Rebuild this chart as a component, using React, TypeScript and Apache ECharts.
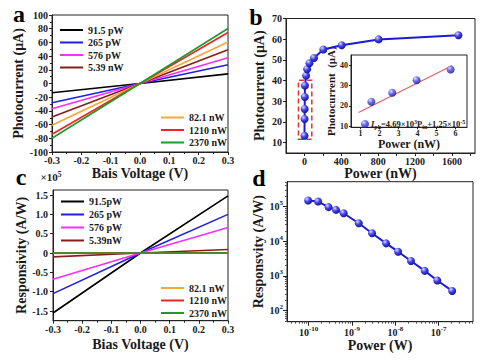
import React, { useEffect, useRef } from 'react';
import * as echarts from 'echarts';

const FONT = 'Liberation Serif';
const INK = '#1a1a1a';

// ---- Panel a: photocurrent vs bias voltage ----
const biasEnds = [-0.3, 0, 0.3];
const aNames = ['91.5 pW', '265 pW', '576 pW', '5.39 nW', '82.1 nW', '1210 nW', '2370 nW'];
const lineColors = ['#000000', '#1f1fe6', '#ff2cff', '#8b1c1c', '#f7a733', '#ec2424', '#1e9a2a'];
const iphNeg = [-13.5, -28, -37, -49, -61, -74, -80];
const iphPos = [14, 27.3, 37.5, 49.4, 60.6, 74.4, 80.3];

// ---- Panel c: responsivity vs bias voltage (x10^5 A/W) ----
const cNames = ['91.5pW', '265 pW', '576 pW', '5.39nW', '82.1 nW', '1210 nW', '2370 nW'];
const respNeg = [-1.55, -1.05, -0.68, -0.1, -0.008, -0.0006, -0.0003];
const respPos = [1.48, 1.0, 0.66, 0.09, 0.0073, 0.0006, 0.00034];

// ---- Panel b: photocurrent vs power ----
const bPower = [0.4, 1.57, 2.67, 3.95, 5.74, 18, 29, 54, 104, 205, 404, 804, 1670];
const bIph = [13.3, 21.4, 26.3, 32.1, 37.6, 42.4, 45.5, 48.4, 50.9, 55, 57.1, 59.9, 61.9];
const insetPower = [1.57, 2.67, 3.95, 5.74];
const insetIph = [22, 26.4, 32.6, 37.9];
const fitPower = [0.9, 5.8];
const fitIph = [16.7, 39.7];
const bXLabels = [0, 400, 800, 1200, 1600];
const bXTicks = [0, 200, 400, 600, 800, 1000, 1200, 1400, 1600, 1800];
const bYLabels = [10, 20, 30, 40, 50, 60, 70];
const insetXLabels = [1, 2, 3, 4, 5, 6];
const insetYLabels = [10, 20, 30, 40];

// ---- Panel d: responsivity vs power (log-log) ----
const dPower = [9.7e-11, 1.65e-10, 2.88e-10, 4.27e-10, 6.4e-10, 1.43e-9, 2.9e-9, 6.1e-9, 1.16e-8, 2.3e-8, 4.76e-8, 9.3e-8, 2.05e-7];
const dResp = [1.49e5, 1.39e5, 9.6e4, 8.0e4, 6.4e4, 3.3e4, 1.7e4, 8.7e3, 5.0e3, 2.7e3, 1.4e3, 7.4e2, 3.7e2];
const dXLabels = [1e-10, 1e-9, 1e-8, 1e-7];
const dYLabels = [1e2, 1e3, 1e4, 1e5];
const cYLabels = [-1.5, -1.0, -0.5, 0, 0.5, 1.0, 1.5];

function minorLog(from: number, to: number): number[] {
  const out: number[] = [];
  for (let e = from; e <= to; e++) {
    for (let m = 2; m <= 9; m++) out.push(m * Math.pow(10, e));
  }
  return out;
}

const tickLabel = { fontFamily: FONT, fontWeight: 'bold' as const, fontSize: 10, color: INK };
const nameStyle = { fontFamily: FONT, fontWeight: 'bold' as const, fontSize: 14, color: INK };
const axisLine = { show: true, onZero: false, lineStyle: { color: '#222', width: 1 } };
const noSplit = { show: false };
const plain = (v: number) => String(v);

function sphere() {
  return new echarts.graphic.RadialGradient(0.35, 0.3, 0.75, [
    { offset: 0, color: '#dcdcff' },
    { offset: 0.45, color: '#4646f0' },
    { offset: 1, color: '#101088' },
  ]);
}

const supRich = {
  b: { fontFamily: FONT, fontWeight: 'bold' as const, fontSize: 10, lineHeight: 14, color: INK },
  s: { fontFamily: FONT, fontWeight: 'bold' as const, fontSize: 7, lineHeight: 8, verticalAlign: 'top' as const, color: INK },
};
const logFmt = (v: number) => '{b|10}{s|' + Math.round(Math.log10(v)) + '}';

function buildOption(): any {
  const grids = [
    { left: 52, top: 15, width: 176, height: 137 },
    { left: 286, top: 18.5, width: 189, height: 134.5 },
    { left: 351, top: 55, width: 116, height: 72.3, backgroundColor: '#fff' },
    { left: 53, top: 190, width: 175, height: 130.7 },
    { left: 287, top: 181.7, width: 186, height: 140 },
  ].map((g) => ({ show: true, borderColor: '#222', borderWidth: 1, backgroundColor: 'transparent', ...g }));

  const legendText = { fontFamily: FONT, fontWeight: 'bold' as const, fontSize: 10, color: INK, lineHeight: 12 };
  const legendBase = { orient: 'vertical', icon: 'rect', itemWidth: 23, itemHeight: 2, itemGap: 0.5, textStyle: legendText, selectedMode: false };

  const xAxis: any[] = [
    {
      type: 'value', gridIndex: 0, min: -0.3, max: 0.3, interval: 0.1,
      axisLine, splitLine: noSplit,
      axisTick: { show: true, length: 3 }, minorTick: { show: true, splitNumber: 2, length: 2 },
      axisLabel: { ...tickLabel, margin: 3, formatter: (v: number) => v.toFixed(1) },
      name: 'Bais Voltage (V)', nameLocation: 'middle', nameGap: 14, nameTextStyle: nameStyle,
    },
    {
      type: 'value', gridIndex: 1, min: -200, max: 1850,
      axisLine, splitLine: noSplit,
      axisTick: { show: true, length: 3, customValues: bXTicks },
      axisLabel: { ...tickLabel, margin: 3, customValues: bXLabels, formatter: plain },
      name: 'Power (nW)', nameLocation: 'middle', nameGap: 13, nameTextStyle: nameStyle,
    },
    {
      type: 'value', gridIndex: 2, min: 0.5, max: 6.6,
      axisLine, splitLine: noSplit,
      axisTick: { show: true, length: 2, customValues: insetXLabels },
      axisLabel: { ...tickLabel, fontSize: 8, margin: 2, customValues: insetXLabels, formatter: plain },
      name: 'Power (nW)', nameLocation: 'middle', nameGap: 9, nameTextStyle: { ...nameStyle, fontSize: 12 },
    },
    {
      type: 'value', gridIndex: 3, min: -0.3, max: 0.3, interval: 0.1,
      axisLine, splitLine: noSplit,
      axisTick: { show: true, length: 3 }, minorTick: { show: true, splitNumber: 2, length: 2 },
      axisLabel: { ...tickLabel, margin: 4, formatter: (v: number) => v.toFixed(1) },
      name: 'Bias Voltage (V)', nameLocation: 'middle', nameGap: 17, nameTextStyle: nameStyle,
    },
    {
      type: 'log', gridIndex: 4, min: 3.16e-11, max: 6.2e-7,
      axisLine, splitLine: noSplit,
      axisTick: { show: true, length: 4, customValues: dXLabels },
      axisLabel: { ...tickLabel, margin: 4, customValues: dXLabels, formatter: logFmt, rich: supRich },
      name: 'Power (W)', nameLocation: 'middle', nameGap: 17, nameTextStyle: nameStyle,
    },
    {
      type: 'log', gridIndex: 4, min: 3.16e-11, max: 6.2e-7, position: 'bottom',
      axisLine: { show: false }, splitLine: noSplit, axisLabel: { show: false },
      axisTick: { show: true, length: 2, customValues: minorLog(-11, -7).filter((v) => v > 3.16e-11 && v < 6.2e-7) },
    },
  ];

  const yAxis: any[] = [
    {
      type: 'value', gridIndex: 0, min: -100, max: 100, interval: 20,
      axisLine, splitLine: noSplit,
      axisTick: { show: true, length: 3 }, minorTick: { show: true, splitNumber: 2, length: 2 },
      axisLabel: { ...tickLabel, margin: 4 },
      name: 'Photocurrent (μA)', nameLocation: 'middle', nameGap: 24, nameTextStyle: nameStyle,
    },
    {
      type: 'value', gridIndex: 1, min: 5, max: 70,
      axisLine, splitLine: noSplit,
      axisTick: { show: true, length: 3, customValues: bYLabels },
      axisLabel: { ...tickLabel, margin: 4, customValues: bYLabels, formatter: plain },
      name: 'Photocurrent (μA)', nameLocation: 'middle', nameGap: 20, nameTextStyle: nameStyle,
    },
    {
      type: 'value', gridIndex: 2, min: 9.4, max: 45,
      axisLine, splitLine: noSplit,
      axisTick: { show: true, length: 2, customValues: insetYLabels },
      axisLabel: { ...tickLabel, fontSize: 8, margin: 3, customValues: insetYLabels, formatter: plain },
      name: 'Photocurrent  (μA)', nameLocation: 'middle', nameGap: 11, nameTextStyle: { ...nameStyle, fontSize: 11 },
    },
    {
      type: 'value', gridIndex: 3, min: -1.75, max: 1.63,
      axisLine, splitLine: noSplit,
      axisTick: { show: true, length: 3, customValues: cYLabels },
      axisLabel: { ...tickLabel, margin: 5, customValues: cYLabels, formatter: (v: number) => (Math.abs(v) < 1e-9 ? '0' : v.toFixed(1)) },
      name: 'Responsivity (A/W)', nameLocation: 'middle', nameGap: 22, nameTextStyle: nameStyle,
    },
    {
      type: 'log', gridIndex: 4, min: 48, max: 5.2e5,
      axisLine, splitLine: noSplit,
      axisTick: { show: true, length: 4, customValues: dYLabels },
      axisLabel: { ...tickLabel, margin: 4, customValues: dYLabels, formatter: logFmt, rich: supRich },
      name: 'Responsvity (A/W)', nameLocation: 'middle', nameGap: 22, nameTextStyle: nameStyle,
    },
    {
      type: 'log', gridIndex: 4, min: 48, max: 5.2e5, position: 'left',
      axisLine: { show: false }, splitLine: noSplit, axisLabel: { show: false },
      axisTick: { show: true, length: 2, customValues: minorLog(1, 5).filter((v) => v > 48 && v < 5.2e5) },
    },
  ];

  const series: any[] = [];
  aNames.forEach((n, i) => {
    series.push({
      type: 'line', name: n, xAxisIndex: 0, yAxisIndex: 0, symbol: 'none', color: lineColors[i],
      lineStyle: { width: 1.6, color: lineColors[i] },
      data: [[biasEnds[0], iphNeg[i]], [biasEnds[1], 0], [biasEnds[2], iphPos[i]]],
    });
  });
  cNames.forEach((n, i) => {
    series.push({
      type: 'line', name: n, xAxisIndex: 3, yAxisIndex: 3, symbol: 'none', color: lineColors[i],
      lineStyle: { width: 1.6, color: lineColors[i] },
      data: [[biasEnds[0], respNeg[i]], [biasEnds[1], 0], [biasEnds[2], respPos[i]]],
    });
  });
  series.push({
    type: 'line', name: 'b-main', xAxisIndex: 1, yAxisIndex: 1, symbol: 'circle', symbolSize: 8,
    itemStyle: { color: sphere() }, lineStyle: { color: '#1a1ad8', width: 2 },
    data: bPower.map((p, i) => [p, bIph[i]]),
    markArea: {
      silent: true,
      itemStyle: { color: 'rgba(0,0,0,0)', borderColor: '#e83030', borderWidth: 1.5, borderType: [5, 3] },
      data: [[{ coord: [-65, 11.7] }, { coord: [80, 40.2] }]],
    },
  });
  series.push({
    type: 'line', name: 'fit', xAxisIndex: 2, yAxisIndex: 2, symbol: 'none',
    lineStyle: { color: '#e06060', width: 1.2 }, color: '#e06060',
    data: fitPower.map((p, i) => [p, fitIph[i]]),
  });
  series.push({
    type: 'scatter', name: 'inset', xAxisIndex: 2, yAxisIndex: 2, symbol: 'circle', symbolSize: 8,
    itemStyle: { color: sphere() }, z: 3,
    data: insetPower.map((p, i) => [p, insetIph[i]]),
  });
  series.push({
    type: 'line', name: 'd-main', xAxisIndex: 4, yAxisIndex: 4, symbol: 'circle', symbolSize: 8,
    itemStyle: { color: sphere() }, lineStyle: { color: '#1a1ad8', width: 2 },
    data: dPower.map((p, i) => [p, dResp[i]]),
  });

  const eqBase = { fontFamily: FONT, fontWeight: 'bold' as const, fontSize: 8.5, lineHeight: 11, color: INK };
  const eqRich = {
    t: eqBase,
    i: { ...eqBase, fontStyle: 'italic' as const },
    sub: { ...eqBase, fontSize: 6, lineHeight: 6, verticalAlign: 'bottom' as const },
    sup: { ...eqBase, fontSize: 6, lineHeight: 6, verticalAlign: 'top' as const },
  };

  const legend: any[] = [
    { ...legendBase, left: 55, top: 19, data: aNames.slice(0, 4) },
    { ...legendBase, left: 156, top: 106.5, data: aNames.slice(4) },
    { ...legendBase, left: 56, top: 190.5, itemGap: 1, data: cNames.slice(0, 4) },
    { ...legendBase, left: 156, top: 277, data: cNames.slice(4) },
    {
      left: 356, top: 113.5, icon: 'circle', itemWidth: 8, itemHeight: 8, selectedMode: false,
      data: ['inset'],
      formatter: () => '{i|I}{sub|ph}{t|=4.69×10}{sup|3}{t|P}{sub|in}{t|+1.25×10}{sup|-5}',
      textStyle: { ...eqBase, padding: [0, 0, 0, -3], rich: eqRich },
    },
  ];

  const letter = (text: string, x: number, y: number) => ({
    type: 'text', x, y, z: 10,
    style: { text, font: 'bold 24px "Liberation Serif"', fill: '#000', textAlign: 'center', textVerticalAlign: 'middle' },
  });

  const graphic = [
    letter('a', 19, 13.5),
    letter('b', 256, 17),
    letter('c', 21, 176.5),
    letter('d', 259, 178),
    {
      type: 'text', x: 51, y: 177, z: 10,
      style: {
        text: '{b|×10}{s|5}', textAlign: 'center', textVerticalAlign: 'middle',
        rich: {
          b: { fontFamily: FONT, fontWeight: 'bold', fontSize: 11, lineHeight: 14, fill: INK },
          s: { fontFamily: FONT, fontWeight: 'bold', fontSize: 7.5, lineHeight: 8, verticalAlign: 'top', fill: INK },
        },
      },
    },
  ];

  return {
    animation: false,
    backgroundColor: '#fff',
    textStyle: { fontFamily: FONT },
    grid: grids,
    xAxis,
    yAxis,
    legend,
    series,
    graphic,
  };
}

export default function App() {
  const ref = useRef<HTMLDivElement>(null);
  useEffect(() => {
    const chart = echarts.init(ref.current!, null, { renderer: 'svg' });
    chart.setOption(buildOption());
    return () => chart.dispose();
  }, []);
  return (
    <div
      ref={ref}
      style={{ position: 'fixed', left: 0, top: 0, width: 489, height: 362, background: '#fff' }}
    />
  );
}
